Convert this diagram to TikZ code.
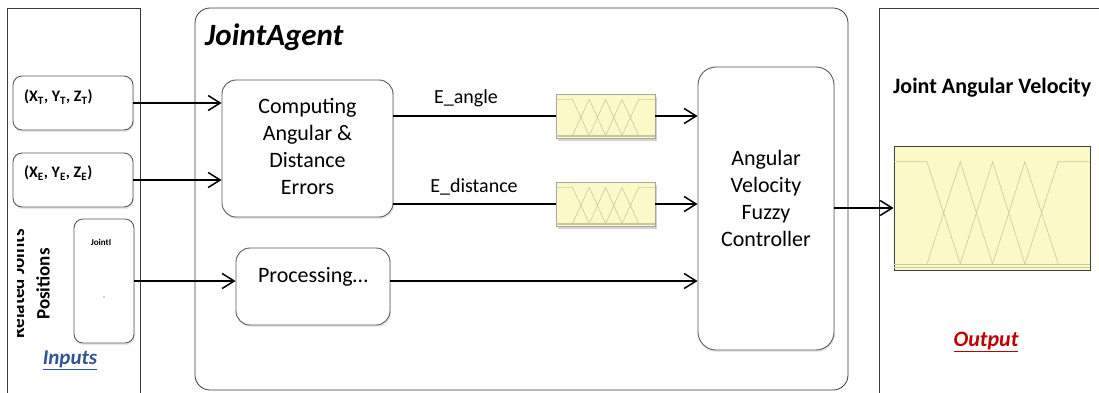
\documentclass[tikz,border=0pt]{standalone}
\usepackage{fontspec}
\setmainfont{Carlito}
\usetikzlibrary{arrows.meta,shadows,calc}
\definecolor{fuzzyfill}{HTML}{FCF9C9}
\definecolor{fuzzyline}{HTML}{CAC6A0}
\definecolor{inblue}{HTML}{2F5597}
\definecolor{outred}{HTML}{C00000}
\definecolor{panelline}{HTML}{3A3A3A}
\tikzset{
  pics/fuzzy/.style={code={
    \draw[fuzzyline,line width=0.6pt]
      (0,0.13)--(0.17,0.13)--(0.34,0.955)
      (0.17,0.955)--(0.34,0.13)--(0.505,0.955)
      (0.34,0.955)--(0.505,0.13)--(0.67,0.955)
      (0.505,0.955)--(0.67,0.13)--(0.84,0.955)
      (0.67,0.955)--(0.84,0.13)--(1,0.13);
    \draw[fuzzyline,line width=0.6pt] (0,0.955)--(1,0.955) (0,0.98)--(1,0.98);
  }}
}
\begin{document}
\begin{tikzpicture}[x=1pt,y=-1pt,
  panel/.style={draw=panelline,line width=0.8pt},
  rbox/.style={draw=black!65,line width=0.9pt,rounded corners=14pt,fill=white,
    drop shadow={opacity=0.18,shadow xshift=1pt,shadow yshift=-2pt}},
  fbox/.style={draw=black!35,line width=0.8pt,fill=fuzzyfill,inner sep=0pt,
    drop shadow={opacity=0.35,shadow xshift=1.5pt,shadow yshift=-2.5pt}},
  arr/.style={-{Straight Barb[length=12pt,width=15pt]},line width=1.5pt},
  ln/.style={line width=1.5pt},
  big/.style={font=\fontsize{22}{27}\selectfont,align=center,inner sep=0pt},
  lbl/.style={font=\fontsize{19}{23}\selectfont\bfseries,inner sep=0pt},
  small/.style={font=\fontsize{16}{18}\selectfont\bfseries,inner sep=0pt,anchor=west}
]
\useasboundingbox (0,0) rectangle (1099,392);
% panels
\draw[panel] (7,400) -- (7,8) -- (140,8) -- (140,400);
\draw[panel,rounded corners=15pt] (195,8) rectangle (848,390);
\draw[panel] (879,400) -- (879,8) -- (1110,8);

% input boxes
\node[rbox,rounded corners=9pt,minimum width=120pt,minimum height=54pt] (xt) at (73,103) {};
\node[small] (xttext) at (24,97) {(X\textsubscript{T}, Y\textsubscript{T}, Z\textsubscript{T})};
\node[rbox,rounded corners=9pt,minimum width=120pt,minimum height=54pt] (xe) at (73,180) {};
\node[small] (xetext) at (24,173) {(X\textsubscript{E}, Y\textsubscript{E}, Z\textsubscript{E})};
\node[rbox,rounded corners=9pt,minimum width=60pt,minimum height=124pt] (joint) at (104,281) {};
\node[font=\fontsize{9}{10}\selectfont\bfseries,inner sep=0pt] (jointtext) at (101,242) {JointI};
\fill[black!70] (104,297) circle (0.7pt);
\node[lbl,rotate=90] (pos) at (43,284) {Positions};
\begin{scope}
  \clip (17.5,200) rectangle (24.5,350);
  \node[lbl,rotate=90,anchor=base] (relj) at (24,284) {Related Joints};
\end{scope}
\node[font=\fontsize{21}{24}\selectfont\bfseries\itshape,text=inblue,inner sep=0pt] (inputs) at (70,360) {\underline{Inputs}};

% JointAgent
\node[font=\fontsize{31}{34}\selectfont\bfseries\itshape,anchor=west,inner sep=0pt] (ja) at (205,37) {JointAgent};
\node[rbox,minimum width=171pt,minimum height=137pt] (comp) at (307.5,148.5) {};
\node[big] (comptext) at (307.5,146) {Computing\\Angular \&\\Distance\\Errors};
\node[rbox,minimum width=154pt,minimum height=77pt] (proc) at (313,286.5) {};
\node[big] (proctext) at (313,277) {Processing\ldots};
\node[rbox,rounded corners=18pt,minimum width=136pt,minimum height=283pt] (ctrl) at (766,208.5) {};
\node[big] (ctrltext) at (766,198) {Angular\\Velocity\\Fuzzy\\Controller};

% fuzzy input blocks
\node[fbox,minimum width=99pt,minimum height=44pt] (f1) at (605.5,116) {};
\pic[xscale=99,yscale=44] at (f1.north west) {fuzzy};
\node[fbox,minimum width=99pt,minimum height=44pt] (f2) at (605.5,204) {};
\pic[xscale=99,yscale=44] at (f2.north west) {fuzzy};
\node[font=\fontsize{20}{23}\selectfont,inner sep=0pt] (ea) at (466,98) {E\_angle};
\node[font=\fontsize{20}{23}\selectfont,inner sep=0pt] (ed) at (474,187) {E\_distance};

% output
\node[font=\fontsize{22}{26}\selectfont\bfseries,anchor=west,inner sep=0pt] (jav) at (893,88) {Joint Angular Velocity};
\node[draw=black!75,line width=0.8pt,fill=fuzzyfill,inner sep=0pt,minimum width=196pt,minimum height=124pt] (outbox) at (992,208) {};
\pic[xscale=196,yscale=124] at (outbox.north west) {fuzzy};
\node[font=\fontsize{22}{25}\selectfont\bfseries\itshape,text=outred,inner sep=0pt] (outlbl) at (986,342) {\underline{Output}};

% connectors
\draw[arr] (xt.east) -- (comp.west |- xt.east);
\draw[arr] (xe.east) -- (comp.west |- xe.east);
\draw[arr] (joint.east) -- (proc.west |- joint.east);
\draw[arr] (proc.east |- joint.east) -- (ctrl.west |- joint.east);
\draw[ln] (comp.east |- f1.west) -- (f1.west);
\draw[ln] (comp.east |- f2.west) -- (f2.west);
\draw[arr] (f1.east) -- (ctrl.west |- f1.east);
\draw[arr] (f2.east) -- (ctrl.west |- f2.east);
\draw[arr] (ctrl.east |- outbox.west) -- (outbox.west);
\end{tikzpicture}
\end{document}
